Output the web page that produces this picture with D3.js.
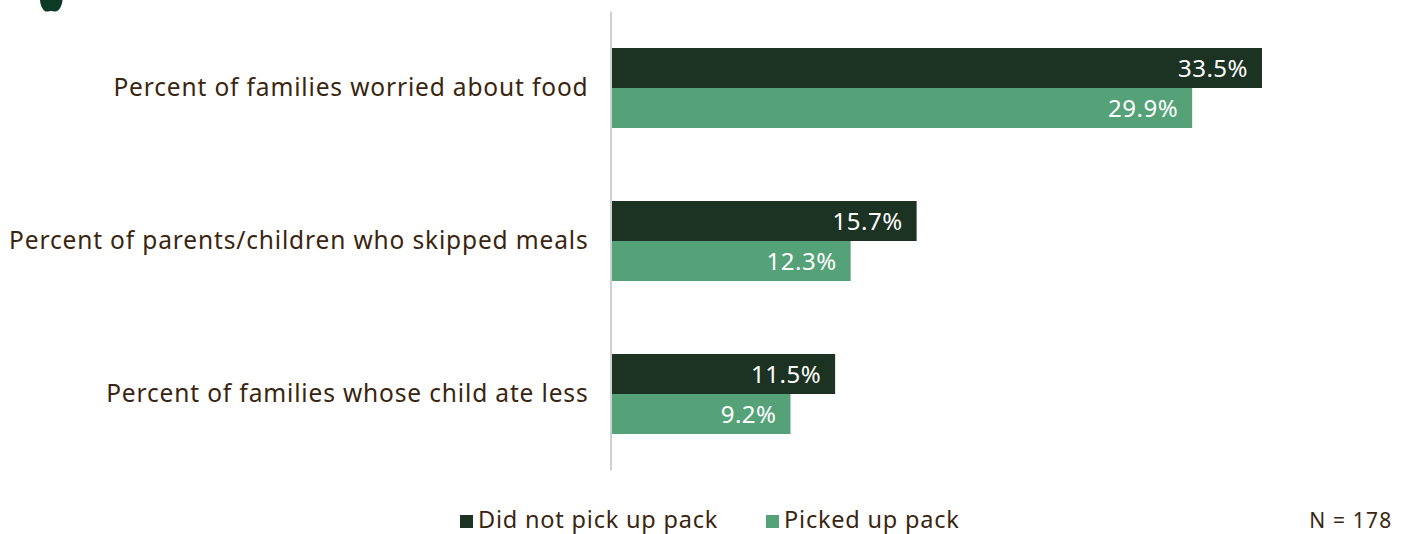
<!DOCTYPE html>
<html>
<head>
<meta charset="utf-8">
<script src="https://cdnjs.cloudflare.com/ajax/libs/d3/7.8.5/d3.min.js"></script>
<style>
  html, body { margin: 0; padding: 0; background: #fff; }
  svg { display: block; }
  text { font-family: "Noto Sans", sans-serif; }
</style>
</head>
<body>
<svg id="chart" width="1409" height="534"></svg>
<script>
const categories = [
  "Percent of families worried about food",
  "Percent of parents/children who skipped meals",
  "Percent of families whose child ate less"
];
const seriesNames = ["Did not pick up pack", "Picked up pack"];
const didNotPickUp = [33.5, 15.7, 11.5];
const pickedUp = [29.9, 12.3, 9.2];
const seriesValues = [didNotPickUp, pickedUp];
const seriesColors = ["#1c3324", "#55a279"];
const sampleNote = "N = 178";

const svg = d3.select("#chart");
const ink = "#3a2510";

const x = d3.scaleLinear().domain([0, 33.5]).range([612, 1262]);
const y = d3.scaleBand().domain(categories).range([11.5, 470.5]).paddingInner(0).paddingOuter(0);
const inner = d3.scaleBand().domain(seriesNames).range([0, y.bandwidth()]).paddingInner(0).paddingOuter(0.9125);

// Logo fragment cut off by the top edge
svg.append("path")
  .attr("d", "M40,0 C40.5,7 44,12 47,11.6 C49,11.4 49.5,11 51,11 C52.5,11 53,11.6 55,11.6 C59,11.8 62,6 62.5,0 Z")
  .attr("fill", "#0c3a24");

// Bars and their value labels
const groups = svg.selectAll("g.cat")
  .data(categories)
  .join("g")
  .attr("class", "cat")
  .attr("transform", d => `translate(0,${y(d)})`);

seriesNames.forEach((name, s) => {
  groups.append("rect")
    .attr("x", x(0))
    .attr("y", inner(name))
    .attr("width", (d, i) => x(seriesValues[s][i]) - x(0))
    .attr("height", inner.bandwidth())
    .attr("fill", seriesColors[s]);

  groups.append("text")
    .attr("x", (d, i) => x(seriesValues[s][i]) - 14)
    .attr("y", inner(name) + inner.bandwidth() / 2 + 9)
    .attr("text-anchor", "end")
    .attr("fill", "#fff")
    .attr("font-size", 24)
    .attr("letter-spacing", 0.5)
    .text((d, i) => seriesValues[s][i].toFixed(1) + "%");
});

// Category labels
groups.append("text")
  .attr("x", 588.5)
  .attr("y", y.bandwidth() / 2 + 8)
  .attr("text-anchor", "end")
  .attr("fill", ink)
  .attr("font-size", 24.5)
  .attr("letter-spacing", 0.85)
  .text(d => d);

// Category axis line
svg.append("line")
  .attr("x1", 611).attr("x2", 611)
  .attr("y1", y.range()[0]).attr("y2", y.range()[1])
  .attr("stroke", "#d0d0d0")
  .attr("stroke-width", 2);

// Legend
const legendX = [460, 766];
seriesNames.forEach((name, s) => {
  svg.append("rect")
    .attr("x", legendX[s]).attr("y", 515)
    .attr("width", 13).attr("height", 13)
    .attr("fill", seriesColors[s]);
  svg.append("text")
    .attr("x", legendX[s] + 18).attr("y", 527.5)
    .attr("fill", ink)
    .attr("font-size", 23.5)
    .attr("letter-spacing", 0.8)
    .text(name);
});

svg.append("text")
  .attr("x", 1392.5).attr("y", 528)
  .attr("text-anchor", "end")
  .attr("fill", ink)
  .attr("font-size", 21)
  .attr("letter-spacing", 1.2)
  .text(sampleNote);
</script>
</body>
</html>
